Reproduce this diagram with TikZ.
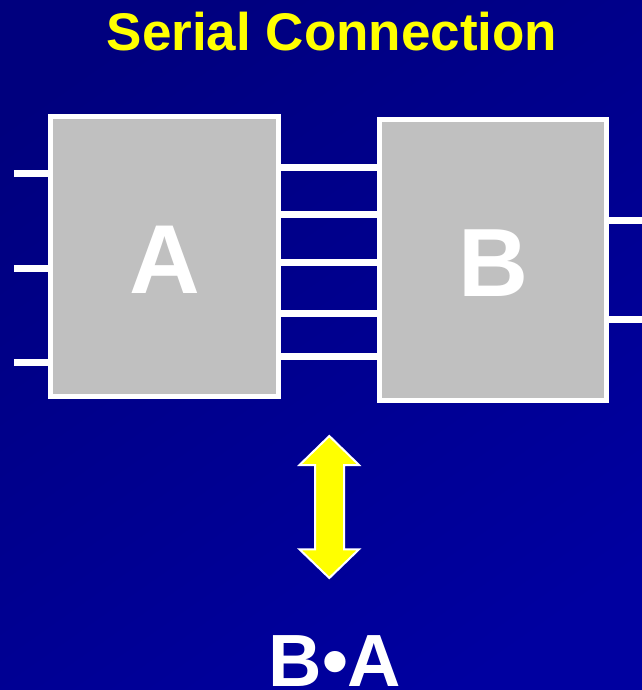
\documentclass[tikz,border=0pt]{standalone}
\usepackage{fontspec}
\setmainfont{Liberation Sans}
\begin{document}
\begin{tikzpicture}[x=1pt,y=-1pt,
  block/.style={draw=white,line width=5pt,fill=boxgray,inner sep=0pt},
  wire/.style={draw=white,line width=7pt},
  lbl/.style={text=white,font=\bfseries,anchor=base,inner sep=0pt}]
\definecolor{boxgray}{RGB}{192,192,192}
\definecolor{navyA}{RGB}{0,0,126}
\definecolor{navyB}{RGB}{0,0,160}
\definecolor{ylw}{RGB}{255,255,0}
\useasboundingbox (0,0) rectangle (641,690);
\shade[shading=axis,top color=navyA,bottom color=navyB,shading angle=35] (-30,-30) rectangle (671,720);
\node[text=ylw,font=\fontsize{53}{60}\bfseries\selectfont,anchor=base,inner sep=0pt] (title) at (332,51) {Serial Connection};
% input wires
\coordinate (i1) at (14,173);
\coordinate (i2) at (14,268.5);
\coordinate (i3) at (14,362);
\coordinate (o1e) at (645,220);
\coordinate (o2e) at (645,319.5);
\node[block,minimum width=228pt,minimum height=280pt] (A) at (164.5,256.5) {};
\node[block,minimum width=227pt,minimum height=281pt] (B) at (493,260) {};
\foreach \c in {i1,i2,i3} \draw[wire] (\c) -- (A.west |- \c);
\foreach \y in {167.7,214.3,262.7,313.7,356} \draw[wire] (A.east |- 0,\y) -- (B.west |- 0,\y);
\foreach \c in {o1e,o2e} \draw[wire] (B.east |- \c) -- (\c);
% redraw box borders on top
\node[block,minimum width=228pt,minimum height=280pt] at (A) {};
\node[block,minimum width=227pt,minimum height=281pt] at (B) {};
\node[lbl,font=\fontsize{98}{100}\bfseries\selectfont] (la) at (164.5,293) {A};
\node[lbl,font=\fontsize{97}{100}\bfseries\selectfont] (lb) at (494,296) {B};
% double arrow
\draw[white,line width=2pt,fill=ylw,line join=miter]
  (329.3,436) -- (359,465) -- (344,465) -- (344,549.3) -- (359,549.3) -- (329.3,578)
  -- (299.5,549.3) -- (315,549.3) -- (315,465) -- (299.5,465) -- cycle;
\node[lbl,font=\fontsize{74}{80}\bfseries\selectfont] (ba) at (335,686) {B•A};
\end{tikzpicture}
\end{document}
